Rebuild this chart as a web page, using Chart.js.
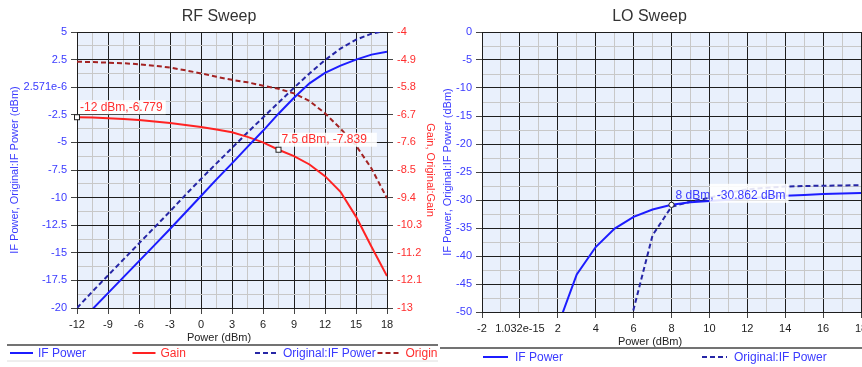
<!DOCTYPE html>
<html>
<head>
<meta charset="utf-8">
<script src="https://cdn.jsdelivr.net/npm/chart.js@4.4.1/dist/chart.umd.min.js"></script>
<style>
  html, body { margin: 0; padding: 0; background: #fff; }
  body { width: 862px; height: 367px; position: relative; overflow: hidden; }
  #rfChart { position: absolute; left: 0; top: 0; }
  #loChart { position: absolute; left: 438px; top: 0; }
</style>
</head>
<body>
<canvas id="rfChart" width="438" height="367"></canvas>
<canvas id="loChart" width="424" height="367"></canvas>
<script>
// RF sweep data
const rfPower = [-12, -10.5, -9, -7.5, -6, -4.5, -3, -1.5, 0, 1.5, 3, 4.5, 6, 7.5, 9, 10.5, 12, 13.5, 15, 16.5, 18];
const rfIfPower = [-21.6, -20.1, -18.65, -17.2, -15.75, -14.3, -12.85, -11.35, -9.85, -8.35, -6.9, -5.4, -3.95, -2.4, -0.95, 0.35, 1.3, 1.95, 2.5, 2.95, 3.22];
const rfGain = [-6.779, -6.79, -6.81, -6.84, -6.87, -6.92, -6.97, -7.03, -7.1, -7.18, -7.27, -7.42, -7.6, -7.839, -8.05, -8.32, -8.7, -9.21, -10.02, -11.0, -11.96];
const rfOrigIfPower = [-20.0, -18.5, -17.05, -15.6, -14.15, -12.7, -11.25, -9.75, -8.3, -6.9, -5.5, -4.1, -2.75, -1.4, -0.05, 1.25, 2.45, 3.5, 4.3, 4.85, 5.15];
const rfOrigGain = [-4.97, -4.98, -5.0, -5.02, -5.05, -5.1, -5.16, -5.25, -5.35, -5.46, -5.56, -5.64, -5.75, -5.85, -6.0, -6.25, -6.65, -7.15, -7.7, -8.45, -9.42];

// LO sweep data
const loPower = [2, 3, 4, 5, 6, 7, 8, 9, 10, 11, 12, 13, 14, 15, 16, 17, 18];
const loIfPower = [-52.5, -43.3, -38.4, -35.1, -33.0, -31.7, -30.862, -30.4, -30.2, -29.95, -29.7, -29.45, -29.25, -29.1, -28.95, -28.85, -28.75];
const loOrigIfPower = [null, null, null, -68, -49.5, -36.3, -31.2, -30.3, -29.6, -28.7, -28.1, -27.8, -27.6, -27.5, -27.45, -27.4, -27.35];

// tick labels (from min to max, major ticks only)
const rfPowerTicks = ['-12', '-9', '-6', '-3', '0', '3', '6', '9', '12', '15', '18'];
const rfIfTicks = ['-20', '-17.5', '-15', '-12.5', '-10', '-7.5', '-5', '-2.5', '2.571e-6', '2.5', '5'];
const rfGainTicks = ['-13', '-12.1', '-11.2', '-10.3', '-9.4', '-8.5', '-7.6', '-6.7', '-5.8', '-4.9', '-4'];
const loPowerTicks = ['-2', '1.032e-15', '2', '4', '6', '8', '10', '12', '14', '16', '18'];
const loIfTicks = ['-50', '-45', '-40', '-35', '-30', '-25', '-20', '-15', '-10', '-5', '0'];

const BLUE = '#1c1cff';
const NAVY = '#2626a6';
const RED = '#ff2222';
const DARKRED = '#a32222';
const BLUE_TXT = '#3a3aff';
const RED_TXT = '#ff2e2e';
const FONT = 'Arial, "Liberation Sans", sans-serif';

const pts = (xs, ys) => xs.map((x, i) => ({ x, y: ys[i] }));

function gridOpts() {
  return {
    color: (c) => (c.index % 2 === 0 ? '#1e1e1e' : '#c8c8c8'),
    tickColor: (c) => (c.index % 2 === 0 ? '#444' : 'rgba(0,0,0,0)'),
    tickLength: 6,
    lineWidth: 1
  };
}

function tickOpts(labels, color) {
  return {
    autoSkip: false,
    maxRotation: 0,
    padding: 4,
    color,
    font: { family: FONT, size: 11 },
    callback: (v, i) => (i % 2 === 0 ? labels[i / 2] : '')
  };
}

function fixSize(prop, size) {
  return (s) => {
    s[prop] = size;
    s.paddingLeft = 0;
    s.paddingRight = 0;
    s.paddingTop = 0;
    s.paddingBottom = 0;
  };
}

const decor = {
  id: 'decor',
  beforeDraw(chart) {
    const { ctx, chartArea: a } = chart;
    ctx.save();
    ctx.fillStyle = '#e9f0fc';
    ctx.fillRect(a.left, a.top, a.right - a.left, a.bottom - a.top);
    ctx.restore();
  },
  afterDraw(chart, args, o) {
    const ctx = chart.ctx;
    const w = chart.width;
    ctx.save();

    // x axis title, centred on the canvas
    ctx.font = '11px ' + FONT;
    ctx.fillStyle = '#222';
    ctx.textAlign = 'center';
    ctx.textBaseline = 'middle';
    ctx.fillText(o.xTitle, w / 2, o.xTitleY);

    // legend separators
    ctx.strokeStyle = '#444';
    ctx.lineWidth = 1.5;
    ctx.beginPath();
    ctx.moveTo(o.sepX, o.sepY);
    ctx.lineTo(w, o.sepY);
    ctx.stroke();
    if (o.lightY) {
      ctx.strokeStyle = '#dedede';
      ctx.lineWidth = 1;
      ctx.beginPath();
      ctx.moveTo(o.sepX, o.lightY);
      ctx.lineTo(w, o.lightY);
      ctx.stroke();
    }

    // legend
    ctx.font = '12px ' + FONT;
    ctx.textAlign = 'left';
    chart.data.datasets.forEach((ds, i) => {
      const x0 = o.legendX + i * o.legendStep;
      ctx.strokeStyle = ds.borderColor;
      ctx.lineWidth = 2;
      ctx.setLineDash(ds.borderDash || []);
      ctx.beginPath();
      ctx.moveTo(x0, o.legendY);
      ctx.lineTo(x0 + o.legendLine, o.legendY);
      ctx.stroke();
      ctx.setLineDash([]);
      ctx.fillStyle = ds.legendColor;
      ctx.fillText(ds.label, x0 + o.legendLine + o.legendGap, o.legendY + 0.5);
    });

    // data markers
    o.markers.forEach((m) => {
      const px = chart.scales.x.getPixelForValue(m.x);
      const py = chart.scales[m.axis].getPixelForValue(m.y);
      ctx.font = '12px ' + FONT;
      const tw = ctx.measureText(m.text).width;
      const tx = px + m.dx;
      const ty = py + m.dy;
      ctx.fillStyle = 'rgba(255,255,255,0.88)';
      ctx.fillRect(px + m.boxFrom, ty - m.boxUp, tx + tw + m.boxExtra - (px + m.boxFrom), m.boxUp + 7);
      ctx.fillStyle = m.color;
      ctx.textBaseline = 'middle';
      ctx.fillText(m.text, tx, ty);
      ctx.fillStyle = '#fff';
      ctx.strokeStyle = '#222';
      ctx.lineWidth = 1;
      if (m.round) {
        ctx.beginPath();
        ctx.arc(px, py, 2.6, 0, Math.PI * 2);
        ctx.fill();
        ctx.stroke();
      } else {
        ctx.fillRect(px - 2.5, py - 2.5, 5, 5);
        ctx.strokeRect(px - 2.5, py - 2.5, 5, 5);
      }
    });
    ctx.restore();
  }
};

const rfChart = new Chart(document.getElementById('rfChart'), {
  type: 'line',
  data: {
    datasets: [
      { label: 'IF Power', data: pts(rfPower, rfIfPower), yAxisID: 'y', borderColor: BLUE, legendColor: BLUE_TXT },
      { label: 'Gain', data: pts(rfPower, rfGain), yAxisID: 'y2', borderColor: RED, legendColor: RED_TXT },
      { label: 'Original:IF Power', data: pts(rfPower, rfOrigIfPower), yAxisID: 'y', borderColor: NAVY, borderDash: [5, 3], legendColor: BLUE_TXT },
      { label: 'Original:Gain', data: pts(rfPower, rfOrigGain), yAxisID: 'y2', borderColor: DARKRED, borderDash: [5, 3], legendColor: RED_TXT }
    ]
  },
  options: {
    responsive: false,
    animation: false,
    layout: { padding: 0 },
    elements: { point: { radius: 0 }, line: { borderWidth: 2, tension: 0, fill: false } },
    plugins: {
      legend: { display: false },
      tooltip: { enabled: false },
      title: {
        display: true,
        text: 'RF Sweep',
        color: '#333',
        font: { family: FONT, size: 16, weight: 'normal' },
        padding: { top: 7, bottom: 5.8 }
      },
      decor: {
        xTitle: 'Power (dBm)', xTitleY: 338,
        sepX: 7, sepY: 345, lightY: 361,
        legendX: 10, legendStep: 122.5, legendY: 353, legendLine: 23, legendGap: 5,
        markers: [
          { x: rfPower[0], y: rfGain[0], axis: 'y2', text: rfPower[0] + ' dBm,' + rfGain[0], dx: 3, dy: -10, boxFrom: 1, boxUp: 7, boxExtra: 3, color: RED_TXT },
          { x: rfPower[13], y: rfGain[13], axis: 'y2', text: rfPower[13] + ' dBm, ' + rfGain[13], dx: 3, dy: -10, boxFrom: 1, boxUp: 7, boxExtra: 10, color: RED_TXT }
        ]
      }
    },
    scales: {
      x: {
        type: 'linear', min: -12, max: 18,
        ticks: Object.assign(tickOpts(rfPowerTicks, '#222'), { stepSize: 1.5 }),
        grid: gridOpts(),
        border: { color: '#1e1e1e' },
        afterFit: fixSize('height', 59)
      },
      y: {
        position: 'left', min: -20, max: 5,
        ticks: Object.assign(tickOpts(rfIfTicks, BLUE_TXT), { stepSize: 1.25 }),
        grid: gridOpts(),
        border: { color: '#1e1e1e' },
        title: { display: true, text: 'IF Power, Original:IF Power (dBm)', color: BLUE_TXT, font: { family: FONT, size: 11 }, padding: { top: 8, bottom: 0 } },
        afterFit: fixSize('width', 77)
      },
      y2: {
        position: 'right', min: -13, max: -4,
        ticks: Object.assign(tickOpts(rfGainTicks, RED_TXT), { stepSize: 0.45 }),
        grid: Object.assign(gridOpts(), { drawOnChartArea: false }),
        border: { color: '#1e1e1e' },
        title: { display: true, text: 'Gain, Original:Gain', color: RED_TXT, font: { family: FONT, size: 11 }, padding: { top: 1, bottom: 0 } },
        afterFit: fixSize('width', 51)
      }
    }
  },
  plugins: [decor]
});

const loChart = new Chart(document.getElementById('loChart'), {
  type: 'line',
  data: {
    datasets: [
      { label: 'IF Power', data: pts(loPower, loIfPower), borderColor: BLUE, legendColor: BLUE_TXT },
      { label: 'Original:IF Power', data: pts(loPower, loOrigIfPower), borderColor: NAVY, borderDash: [5, 3], legendColor: BLUE_TXT }
    ]
  },
  options: {
    responsive: false,
    animation: false,
    layout: { padding: { right: 1 } },
    elements: { point: { radius: 0 }, line: { borderWidth: 2, tension: 0, fill: false } },
    plugins: {
      legend: { display: false },
      tooltip: { enabled: false },
      title: {
        display: true,
        text: 'LO Sweep',
        color: '#333',
        font: { family: FONT, size: 16, weight: 'normal' },
        padding: { top: 7, bottom: 5.8 }
      },
      decor: {
        xTitle: 'Power (dBm)', xTitleY: 342,
        sepX: 2, sepY: 348, lightY: 0,
        legendX: 45, legendStep: 219, legendY: 357, legendLine: 25, legendGap: 7,
        markers: [
          { x: loPower[6], y: loIfPower[6], axis: 'y', text: loPower[6] + ' dBm, ' + loIfPower[6] + ' dBm', dx: 4, dy: -9, boxFrom: 38, boxUp: 12, boxExtra: 3, color: BLUE_TXT, round: true }
        ]
      }
    },
    scales: {
      x: {
        type: 'linear', min: -2, max: 18,
        ticks: Object.assign(tickOpts(loPowerTicks, '#222'), { stepSize: 1 }),
        grid: gridOpts(),
        border: { color: '#1e1e1e' },
        afterFit: fixSize('height', 55)
      },
      y: {
        position: 'left', min: -50, max: 0,
        ticks: Object.assign(tickOpts(loIfTicks, BLUE_TXT), { stepSize: 2.5 }),
        grid: gridOpts(),
        border: { color: '#1e1e1e' },
        title: { display: true, text: 'IF Power, Original:IF Power (dBm)', color: BLUE_TXT, font: { family: FONT, size: 11 }, padding: { top: 3.4, bottom: 0 } },
        afterFit: fixSize('width', 44)
      }
    }
  },
  plugins: [decor]
});
</script>
</body>
</html>
